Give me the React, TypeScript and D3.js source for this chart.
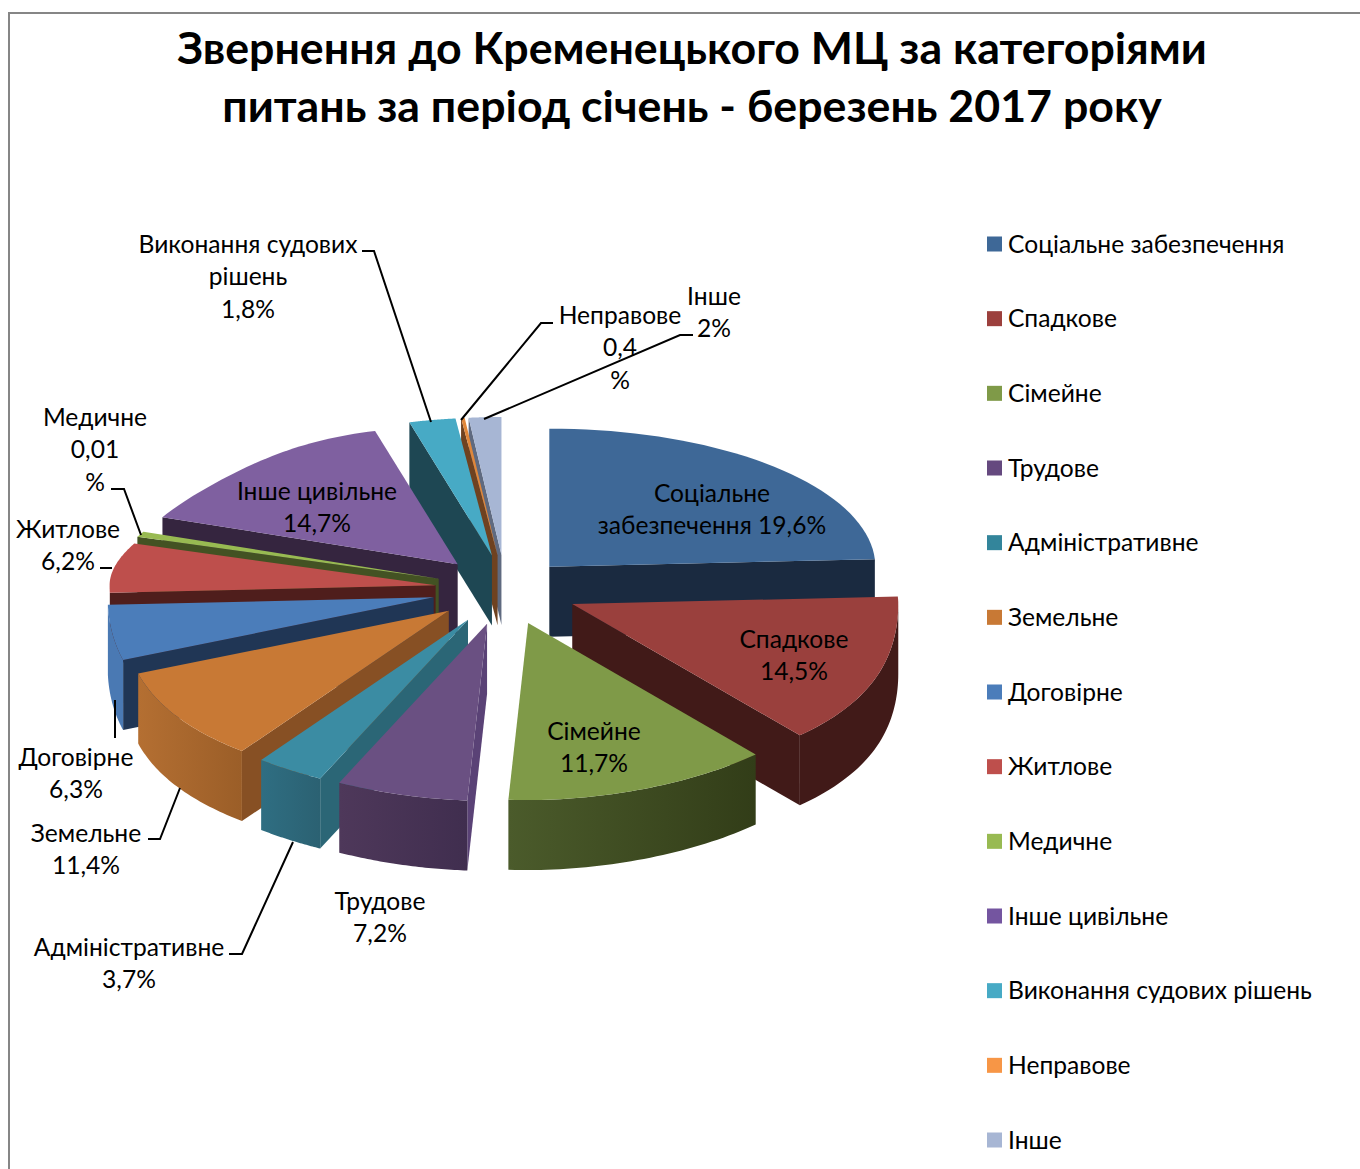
import React from "react";
import * as d3 from "d3";

const categories = ["Соціальне забезпечення","Спадкове","Сімейне","Трудове","Адміністративне","Земельне","Договірне","Житлове","Медичне","Інше цивільне","Виконання судових рішень","Неправове","Інше"];
const shares = [19.6,14.5,11.7,7.2,3.7,11.4,6.3,6.2,0.5,14.7,1.8,0.4,2];
const titleLines = ["Звернення до Кременецького МЦ за категоріями","питань за період січень - березень 2017 року"];

// palette
const topColors = ["#3E6897","#9A403D","#7F9A48","#6A5082","#3B8CA3","#C87935","#4B7DBA","#BE4F4C","#98BA52","#7F60A0","#47AAC5","#E0873A","#A7B6D4"];
const legendColors = ["#3E6897","#9C403D","#7F9A48","#65497F","#33859B","#C87935","#4B7DBA","#BE4F4C","#98BA52","#7455A0","#47AAC5","#F79646","#A7B6D4"];
const startWall = ["#1A2A40","#411A18","#3A4820","#5A4276","#2B6676","#875024","#203655","#4F1E1C","#435223","#35253F","#1E4753","#6F4220","#5F6A80"];
const endWall = ["#1A2A40","#411A18","#3A4820","#5A4276","#2B6676","#875024","#203655","#4F1E1C","#435223","#35253F","#1E4753","#6F4220","#5F6A80"];
const outerLeft = ["#1A2A40","#411A18","#4B5B2B","#4E385A","#2F6E82","#B46F32","#4A79B3","#8E3B38","#6E8A3C","#5E4778","#33808F","#B06C30","#7C889F"];
const outerRight = ["#1A2A40","#411A18","#323D18","#402E4F","#2B6172","#9B5E28","#4A79B3","#8E3B38","#6E8A3C","#5E4778","#33808F","#B06C30","#7C889F"];
const paintOrder = [0,12,11,10,9,8,7,6,5,4,3,1,2];
// per-slice pull-out factor
const pull = [0.92,1.04,1,1,1,1,1.04,1,1,1,1,1,1];

// pie geometry
const CX = 505, CY = 590, RX = 326, RX_BULGE = 14, RX_PINCH = 29, RY_BACK = 138, RY_FRONT = 177, EX = 70, EY = 35, DEPTH = 70;
const rad = Math.PI / 180;
// perspective: true pie angle (deg) -> apparent angle on the tilted disc
const warp = d3.scaleLinear()
  .domain([0,70.6,122.8,165,190.8,204,245.5,268,290.2,292,344.9,351.4,352.8,360])
  .range([0,87,138,183.6,206.2,217.5,249.5,267.7,287.7,290,345,353.6,354.2,360]);

const arcs = d3.pie<number>().sort(null).startAngle(0).endAngle(2*Math.PI)(shares);
const toPath = d3.line<[number,number]>().x(d=>d[0]).y(d=>d[1]);
const closed = (p:[number,number][]) => toPath(p)+"Z";
const drop = (p:[number,number][]) => p.map(([x,y])=>[x,y+DEPTH] as [number,number]);

function slice(i:number){
  const a0 = warp(arcs[i].startAngle/rad), a1 = warp(arcs[i].endAngle/rad);
  const mid = warp((arcs[i].startAngle+arcs[i].endAngle)/2/rad);
  const ax = CX + pull[i]*EX*Math.sin(mid*rad), ay = CY - pull[i]*EY*Math.cos(mid*rad);
  const pt = (phi:number):[number,number] => {
    const c = Math.cos(phi*rad), s2 = Math.sin(2*phi*rad)**2;
    const rx = RX + (c<0 ? RX_BULGE*s2 : phi>270 ? -RX_PINCH*s2 : 0);
    return [ax + rx*Math.sin(phi*rad), ay - (c>0?RY_BACK:RY_FRONT)*c];
  };
  const sample = (f:number,t:number) => d3.range(0,41).map(k=>pt(f+(t-f)*k/40));
  const apex:[number,number] = [ax,ay];
  const rim = sample(a0,a1);
  const top = [apex,...rim];
  const s = pt(a0), e = pt(a1);
  const walls:{d:string,fill:string}[] = [];
  if (s[0]<ax) walls.push({d:closed([apex,s,...drop([s,apex])]),fill:startWall[i]});
  if (ax<e[0]) walls.push({d:closed([e,apex,...drop([apex,e])]),fill:endWall[i]});
  const f = Math.max(a0,90), t = Math.min(a1,270);
  if (t-f>3){ const o = sample(f,t); walls.push({d:closed([...o,...drop(o).reverse()]),fill:`url(#outer${i})`}); }
  return {top:closed(top),walls};
}

// text annotations
const FONT = "Lato, Carlito, 'Open Sans', sans-serif";
const LABEL_SIZE = 24.6, LINE = 32.5, NUDGE = -1;
const labels:{x:number,y:number,t:string[]}[] = [
  {x:248,y:244,t:["Виконання судових","рішень","1,8%"]},
  {x:620,y:315,t:["Неправове","0,4","%"]},
  {x:714,y:296,t:["Інше","2%"]},
  {x:95,y:417,t:["Медичне","0,01","%"]},
  {x:68,y:529,t:["Житлове","6,2%"]},
  {x:76,y:757,t:["Договірне","6,3%"]},
  {x:86,y:833,t:["Земельне","11,4%"]},
  {x:129,y:947,t:["Адміністративне","3,7%"]},
  {x:380,y:901,t:["Трудове","7,2%"]},
  {x:317,y:491,t:["Інше цивільне","14,7%"]},
  {x:712,y:493,t:["Соціальне","забезпечення 19,6%"]},
  {x:794,y:639,t:["Спадкове","14,5%"]},
  {x:594,y:731,t:["Сімейне","11,7%"]},
];
const leaders = [
  "M362,251H374L431,422","M553,323H541L461,420","M693,335H680L484,419","M111,489H124L141,535",
  "M100,568H112","M115,700V738","M148,839H160L180,788","M229,954H242L293,842",
];
const legendY = d3.scaleLinear().domain([0,12]).range([244,1140]);

export default function App(){
  return (
    <svg width={1360} height={1169} viewBox="0 0 1360 1169" style={{position:"absolute",left:0,top:0,background:"#fff"}} fontFamily={FONT}>
      <defs>
        {categories.map((_,i)=>(
          <linearGradient key={i} id={`outer${i}`} x1="0" x2="1" y1="0" y2="0">
            <stop offset="0" stopColor={outerLeft[i]}/>
            <stop offset="1" stopColor={outerRight[i]}/>
          </linearGradient>
        ))}
      </defs>
      <path d="M9,1169V13H1360" fill="none" stroke="#868686" strokeWidth={2}/>
      {titleLines.map((t,i)=>(
        <text key={i} x={692} y={46.5+58*i} textAnchor="middle" dominantBaseline="central" fontWeight={700} fontSize={44.7} fill="#000">{t}</text>
      ))}
      {paintOrder.map(i=>{
        const s = slice(i);
        return <g key={i}>
          {s.walls.map((w,j)=><path key={j} d={w.d} fill={w.fill}/>)}
          <path d={s.top} fill={topColors[i]}/>
        </g>;
      })}
      {leaders.map((d,i)=><path key={i} d={d} fill="none" stroke="#000" strokeWidth={2}/>)}
      {labels.map((l,i)=>l.t.map((t,j)=>(
        <text key={i+"-"+j} x={l.x} y={l.y+NUDGE+LINE*j} textAnchor="middle" dominantBaseline="central" fontSize={LABEL_SIZE} fill="#000">{t}</text>
      )))}
      {categories.map((c,i)=>(
        <g key={c}>
          <rect x={987} y={legendY(i)-7.5} width={15} height={15} fill={legendColors[i]}/>
          <text x={1008} y={legendY(i)+NUDGE} dominantBaseline="central" fontSize={LABEL_SIZE} fill="#000">{c}</text>
        </g>
      ))}
    </svg>
  );
}
